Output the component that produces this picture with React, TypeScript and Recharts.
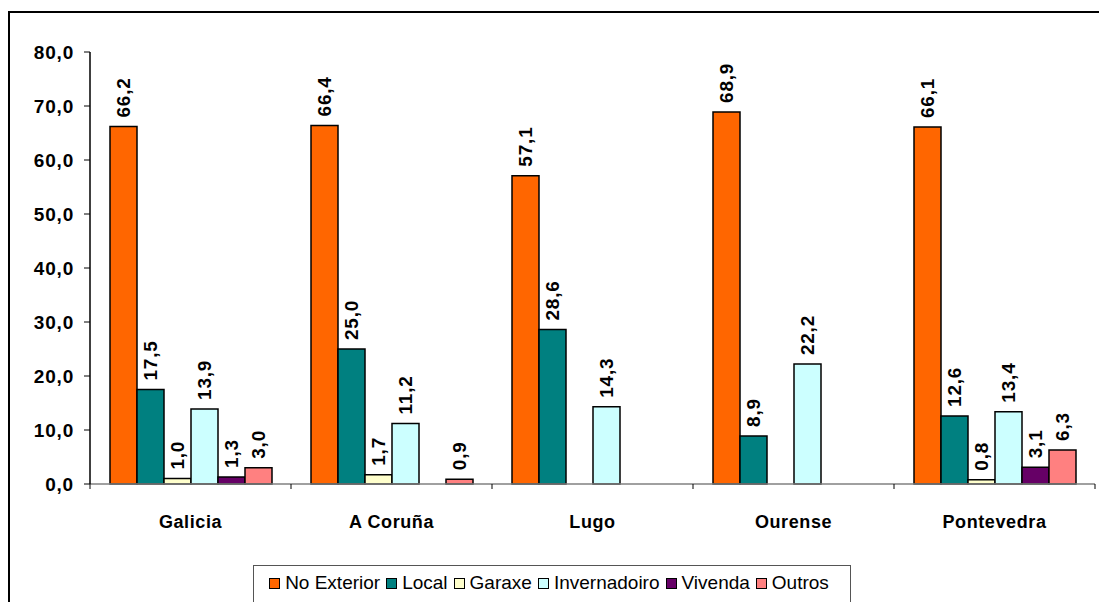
import { BarChart, Bar, XAxis, YAxis, LabelList } from 'recharts'

const categories = ['Galicia', 'A Coruña', 'Lugo', 'Ourense', 'Pontevedra']
const noExterior = [66.2, 66.4, 57.1, 68.9, 66.1]
const local = [17.5, 25.0, 28.6, 8.9, 12.6]
const garaxe = [1.0, 1.7, null, null, 0.8]
const invernadoiro = [13.9, 11.2, 14.3, 22.2, 13.4]
const vivenda = [1.3, null, null, null, 3.1]
const outros = [3.0, 0.9, null, null, 6.3]
const yTicks = [0, 10, 20, 30, 40, 50, 60, 70, 80]

const series = [
  { key: 'noExterior', name: 'No Exterior', color: '#FF6600', values: noExterior },
  { key: 'local', name: 'Local', color: '#008080', values: local },
  { key: 'garaxe', name: 'Garaxe', color: '#FFFFCC', values: garaxe },
  { key: 'invernadoiro', name: 'Invernadoiro', color: '#CCFFFF', values: invernadoiro },
  { key: 'vivenda', name: 'Vivenda', color: '#660066', values: vivenda },
  { key: 'outros', name: 'Outros', color: '#FF8080', values: outros },
]

const data = categories.map((name, i) => {
  const row: Record<string, string | number | null> = { name }
  series.forEach((s) => { row[s.key] = s.values[i] })
  return row
})

const W = 1099
const H = 602
const PLOT_LEFT = 90
const PLOT_RIGHT = 1095
const PLOT_BOTTOM = 484
const BAND = (PLOT_RIGHT - PLOT_LEFT) / categories.length

const fmt = (v: number) => v.toFixed(1).replace('.', ',')

function XTick(props: any) {
  const { x, payload, index } = props
  const left = x - BAND / 2
  return (
    <g>
      <line x1={left} x2={left} y1={PLOT_BOTTOM} y2={PLOT_BOTTOM + 5} stroke="#000" strokeWidth={1} />
      {index === categories.length - 1 && (
        <line x1={x + BAND / 2} x2={x + BAND / 2} y1={PLOT_BOTTOM} y2={PLOT_BOTTOM + 5} stroke="#000" strokeWidth={1} />
      )}
      <text x={x} y={PLOT_BOTTOM + 38} textAnchor="middle" dominantBaseline="central"
        fontSize={18} fontWeight="bold" fill="#000" letterSpacing={0.6}>
        {payload.value}
      </text>
    </g>
  )
}

function BarValue(props: any) {
  const { x, y, width, value } = props
  if (value == null) return null
  const cx = x + width / 2
  const cy = y - 9
  return (
    <text x={cx} y={cy} transform={`rotate(-90 ${cx} ${cy})`} textAnchor="start" dominantBaseline="central"
      fontSize={19} fontWeight="bold" fill="#000" letterSpacing={0.8}>
      {fmt(value)}
    </text>
  )
}

export default function App() {
  return (
    <div style={{ position: 'absolute', left: 0, top: 0, width: W, height: H, overflow: 'hidden', background: '#fff', fontFamily: 'Arial, "Liberation Sans", sans-serif' }}>
      <div style={{ position: 'absolute', left: 8, top: 11, width: 1200, height: 800, border: '2px solid #000' }} />
      <div style={{ position: 'absolute', left: 0, top: 0 }}>
        <BarChart width={W} height={H} data={data} margin={{ top: 52, right: W - PLOT_RIGHT, bottom: 68, left: 0 }}
          barCategoryGap={20} barGap={0}>
          <XAxis dataKey="name" height={50} tick={<XTick />} tickLine={false} axisLine={{ stroke: '#808080', strokeWidth: 1.5 }} interval={0} />
          <YAxis width={PLOT_LEFT} domain={[0, 80]} ticks={yTicks} tickFormatter={fmt} interval={0}
            tickSize={6} tickMargin={10} axisLine={{ stroke: '#000', strokeWidth: 1.5 }} tickLine={{ stroke: '#000' }}
            tick={{ fontSize: 19, fontWeight: 'bold', fill: '#000', letterSpacing: 0.8 }} />
          {series.map((s) => (
            <Bar key={s.key} dataKey={s.key} name={s.name} fill={s.color} stroke="#000" strokeWidth={1.5} isAnimationActive={false}>
              <LabelList dataKey={s.key} content={<BarValue />} />
            </Bar>
          ))}
        </BarChart>
      </div>
      <div style={{ position: 'absolute', left: 253, top: 565, width: 598, height: 40, border: '1.5px solid #555', background: '#fff', display: 'flex', alignItems: 'center', justifyContent: 'center', boxSizing: 'border-box', paddingBottom: 4 }}>
        {series.map((s) => (
          <span key={s.key} style={{ display: 'inline-flex', alignItems: 'center', marginRight: 6, fontSize: 19, color: '#000' }}>
            <span style={{ display: 'inline-block', width: 9, height: 9, background: s.color, border: '1.5px solid #000', marginRight: 5 }} />
            {s.name}
          </span>
        ))}
      </div>
    </div>
  )
}
